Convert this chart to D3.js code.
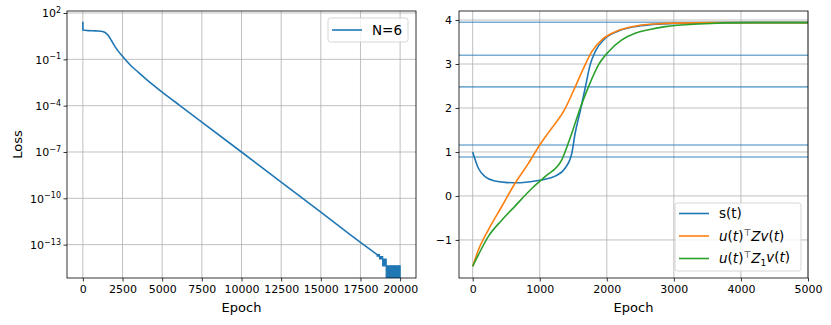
<!DOCTYPE html>
<html>
<head>
<meta charset="utf-8">
<style>
  body { margin: 0; background: #fff; }
  svg { font-family: "DejaVu Sans", sans-serif; }
  .grid line { stroke: #b0b0b0; stroke-width: 0.8; }
  .axlabel { font-size: 13px; fill: #000; }
  .leg text { font-size: 13.5px; fill: #000; }
</style>
<script src="https://cdn.jsdelivr.net/npm/d3@7"></script>
</head>
<body>
<svg width="831" height="325"></svg>
<script>
// ---- left panel: loss vs epoch (N=6) ----
var lossEpoch = [0, 0, 300, 800, 1160, 1400, 1600, 1800, 2100, 2500, 3000, 3500, 4000, 5000, 6100, 7500, 10000, 12500, 15000, 17500, 18550];
var lossLog10 = [1.44, 0.90, 0.86, 0.84, 0.82, 0.74, 0.55, 0.22, -0.29, -0.80, -1.38, -1.84, -2.30, -3.12, -3.98, -5.06, -7.0, -8.95, -10.9, -12.86, -13.65];
// noisy tail at the float floor, drawn as an envelope (step)
var tailEpoch = [18550, 18700, 18900, 19120, 20000];
var tailHigh = [-13.65, -13.78, -13.93, -14.37, -14.37];
var tailLow = [-13.75, -13.93, -14.37, -15.6, -15.6];
var lossXTicks = [0, 2500, 5000, 7500, 10000, 12500, 15000, 17500, 20000];
var lossYTicks = [2, -1, -4, -7, -10, -13];

// ---- right panel: s(t) and projections ----
var sEpoch = [0, 85, 184, 333, 483, 682, 881, 1080, 1229, 1378, 1478, 1527, 1602, 1677, 1751, 1826, 1975, 2174, 2423, 2622, 3020, 3500, 4000, 5000];
var sVal = [1.0, 0.63, 0.44, 0.34, 0.31, 0.30, 0.33, 0.38, 0.45, 0.63, 0.97, 1.42, 1.92, 2.45, 2.98, 3.28, 3.58, 3.75, 3.85, 3.89, 3.92, 3.935, 3.94, 3.94];
var zEpoch = [0, 85, 234, 433, 632, 831, 1000, 1130, 1380, 1529, 1652, 1776, 1925, 2124, 2423, 2700, 3000, 3500, 4000, 5000];
var zVal = [-1.6, -1.23, -0.77, -0.24, 0.29, 0.74, 1.16, 1.44, 1.99, 2.48, 2.9, 3.28, 3.55, 3.73, 3.86, 3.91, 3.93, 3.94, 3.94, 3.94];
var z1Epoch = [0, 85, 234, 433, 632, 881, 1080, 1328, 1453, 1602, 1726, 1876, 2025, 2224, 2423, 2622, 2871, 3368, 4115, 5000];
var z1Val = [-1.6, -1.34, -0.92, -0.55, -0.23, 0.17, 0.44, 0.82, 1.32, 1.99, 2.48, 2.98, 3.28, 3.55, 3.7, 3.78, 3.85, 3.91, 3.94, 3.94];
var singularValues = [3.95, 3.2, 2.48, 1.16, 0.886];
var sXTicks = [0, 1000, 2000, 3000, 4000, 5000];
var sYTicks = [-1, 0, 1, 2, 3, 4];

var blue = "#1f77b4", orange = "#ff7f0e", green = "#2ca02c";
var svg = d3.select("svg");

function zip(xs, ys) {
  return xs.map(function(x, i) { return [x, ys[i]]; });
}

function frame(id, x0, x1, y0, y1) {
  svg.append("clipPath").attr("id", id)
    .append("rect").attr("x", x0).attr("y", y0).attr("width", x1 - x0).attr("height", y1 - y0);
  return svg.append("g");
}

function spines(g, x0, x1, y0, y1) {
  g.append("rect")
    .attr("x", x0).attr("y", y0).attr("width", x1 - x0).attr("height", y1 - y0)
    .attr("fill", "none").attr("stroke", "#000").attr("stroke-width", 0.8);
}

function styleAxis(sel) {
  sel.attr("font-family", null).attr("font-size", null);
  sel.select(".domain").remove();
  sel.selectAll(".tick line").attr("stroke", "#000").attr("stroke-width", 0.8);
  sel.selectAll(".tick text").attr("font-size", "11px").attr("fill", "#000");
}

// ================= left =================
var L = { x0: 67, x1: 416, y0: 11, y1: 278 };
var lx = d3.scaleLinear().domain([-1000, 21000]).range([L.x0, L.x1]);
var ly = d3.scaleLog().domain([Math.pow(10, -15.16), Math.pow(10, 2.13)]).range([L.y1, L.y0]);

var gl = frame("clipL", L.x0, L.x1, L.y0, L.y1);

var gridL = gl.append("g").attr("class", "grid");
gridL.selectAll(".vx").data(lossXTicks).enter().append("line")
  .attr("x1", lx).attr("x2", lx).attr("y1", L.y0).attr("y2", L.y1);
gridL.selectAll(".hy").data(lossYTicks).enter().append("line")
  .attr("x1", L.x0).attr("x2", L.x1)
  .attr("y1", function(d) { return ly(Math.pow(10, d)); })
  .attr("y2", function(d) { return ly(Math.pow(10, d)); });

var plotL = gl.append("g").attr("clip-path", "url(#clipL)");
plotL.append("path")
  .datum(zip(lossEpoch, lossLog10))
  .attr("fill", "none").attr("stroke", blue).attr("stroke-width", 1.6)
  .attr("stroke-linejoin", "round")
  .attr("d", d3.line()
    .x(function(d) { return lx(d[0]); })
    .y(function(d) { return ly(Math.pow(10, d[1])); })
    .curve(d3.curveMonotoneX));

var tailData = tailEpoch.map(function(e, i) { return { e: e, hi: tailHigh[i], lo: tailLow[i] }; });
plotL.append("path")
  .datum(tailData)
  .attr("fill", blue).attr("stroke", blue).attr("stroke-width", 1.2)
  .attr("d", d3.area()
    .x(function(d) { return lx(d.e); })
    .y0(function(d) { return ly(Math.pow(10, d.lo)); })
    .y1(function(d) { return ly(Math.pow(10, d.hi)); })
    .curve(d3.curveStepAfter));

var axLB = gl.append("g").attr("transform", "translate(0," + L.y1 + ")")
  .call(d3.axisBottom(lx).tickValues(lossXTicks).tickSize(3.5).tickPadding(3.5).tickFormat(d3.format("d")));
styleAxis(axLB);

var axLL = gl.append("g").attr("transform", "translate(" + L.x0 + ",0)")
  .call(d3.axisLeft(ly).tickValues(lossYTicks.map(function(d) { return Math.pow(10, d); }))
    .tickSize(3.5).tickPadding(3.5).tickFormat(""));
styleAxis(axLL);
axLL.selectAll(".tick").each(function(d, i) {
  var e = lossYTicks[i];
  var t = d3.select(this).select("text").attr("dy", "0.36em").attr("text-anchor", "end").attr("x", -6);
  t.append("tspan").text("10");
  t.append("tspan").attr("dy", "-0.55em").attr("font-size", "8px")
    .text(e < 0 ? "\u2212" + (-e) : String(e));
});

spines(gl, L.x0, L.x1, L.y0, L.y1);

gl.append("text").attr("class", "axlabel")
  .attr("x", (L.x0 + L.x1) / 2).attr("y", 312).attr("text-anchor", "middle").text("Epoch");
gl.append("text").attr("class", "axlabel")
  .attr("transform", "translate(22," + ((L.y0 + L.y1) / 2) + ") rotate(-90)")
  .attr("text-anchor", "middle").text("Loss");

var legL = gl.append("g").attr("class", "leg");
legL.append("rect").attr("x", 328).attr("y", 18).attr("width", 80).attr("height", 24).attr("rx", 2.5)
  .attr("fill", "#fff").attr("fill-opacity", 0.8).attr("stroke", "#cccccc").attr("stroke-width", 0.8);
legL.append("line").attr("x1", 332).attr("x2", 362).attr("y1", 30).attr("y2", 30)
  .attr("stroke", blue).attr("stroke-width", 1.6);
legL.append("text").attr("x", 372).attr("y", 35).text("N=6");

// ================= right =================
var R = { x0: 459, x1: 808, y0: 11, y1: 278 };
var rx = d3.scaleLinear().domain([-204, 5000]).range([R.x0, R.x1]);
var ry = d3.scaleLinear().domain([-1.865, 4.205]).range([R.y1, R.y0]);

var gr = frame("clipR", R.x0, R.x1, R.y0, R.y1);

var gridR = gr.append("g").attr("class", "grid");
gridR.selectAll(".vx").data(sXTicks).enter().append("line")
  .attr("x1", rx).attr("x2", rx).attr("y1", R.y0).attr("y2", R.y1);
gridR.selectAll(".hy").data(sYTicks).enter().append("line")
  .attr("x1", R.x0).attr("x2", R.x1).attr("y1", ry).attr("y2", ry);

var plotR = gr.append("g").attr("clip-path", "url(#clipR)");
plotR.selectAll(".sv").data(singularValues).enter().append("line")
  .attr("x1", R.x0).attr("x2", R.x1).attr("y1", ry).attr("y2", ry)
  .attr("stroke", blue).attr("stroke-opacity", 0.6).attr("stroke-width", 1.6);

var lineR = d3.line()
  .x(function(d) { return rx(d[0]); })
  .y(function(d) { return ry(d[1]); })
  .curve(d3.curveMonotoneX);

var seriesR = [
  { pts: zip(sEpoch, sVal), color: blue },
  { pts: zip(zEpoch, zVal), color: orange },
  { pts: zip(z1Epoch, z1Val), color: green }
];
seriesR.forEach(function(s) {
  plotR.append("path").datum(s.pts)
    .attr("fill", "none").attr("stroke", s.color).attr("stroke-width", 1.6)
    .attr("d", lineR);
});

var axRB = gr.append("g").attr("transform", "translate(0," + R.y1 + ")")
  .call(d3.axisBottom(rx).tickValues(sXTicks).tickSize(3.5).tickPadding(3.5).tickFormat(d3.format("d")));
styleAxis(axRB);
var axRL = gr.append("g").attr("transform", "translate(" + R.x0 + ",0)")
  .call(d3.axisLeft(ry).tickValues(sYTicks).tickSize(3.5).tickPadding(3.5)
    .tickFormat(function(d) { return d < 0 ? "\u2212" + (-d) : String(d); }));
styleAxis(axRL);

spines(gr, R.x0, R.x1, R.y0, R.y1);

gr.append("text").attr("class", "axlabel")
  .attr("x", (R.x0 + R.x1) / 2).attr("y", 312).attr("text-anchor", "middle").text("Epoch");

// legend
var legR = gr.append("g").attr("class", "leg");
legR.append("rect").attr("x", 675).attr("y", 203).attr("width", 126).attr("height", 68).attr("rx", 2.5)
  .attr("fill", "#fff").attr("fill-opacity", 0.8).attr("stroke", "#cccccc").attr("stroke-width", 0.8);
var legY = [213.5, 236, 258.5];
seriesR.forEach(function(s, i) {
  legR.append("line").attr("x1", 679).attr("x2", 709).attr("y1", legY[i]).attr("y2", legY[i])
    .attr("stroke", s.color).attr("stroke-width", 1.6);
});
legR.append("text").attr("x", 719).attr("y", legY[0] + 4.5).text("s(t)");

function mathLabel(y, sub) {
  var t = legR.append("text").attr("x", 719).attr("y", y + 4.5);
  t.append("tspan").attr("font-style", "italic").text("u");
  t.append("tspan").text("(");
  t.append("tspan").attr("font-style", "italic").text("t");
  t.append("tspan").text(")");
  t.append("tspan").attr("font-size", "9px").attr("dy", "-0.55em").text("\u22A4");
  t.append("tspan").attr("font-style", "italic").attr("dy", "0.4em").text("Z");
  if (sub) {
    t.append("tspan").attr("font-size", "9px").attr("dy", "0.3em").text(sub);
    t.append("tspan").attr("font-style", "italic").attr("dy", "-0.3em").text("v");
  } else {
    t.append("tspan").attr("font-style", "italic").text("v");
  }
  t.append("tspan").text("(");
  t.append("tspan").attr("font-style", "italic").text("t");
  t.append("tspan").text(")");
}
mathLabel(legY[1], null);
mathLabel(legY[2], "1");
</script>
</body>
</html>
